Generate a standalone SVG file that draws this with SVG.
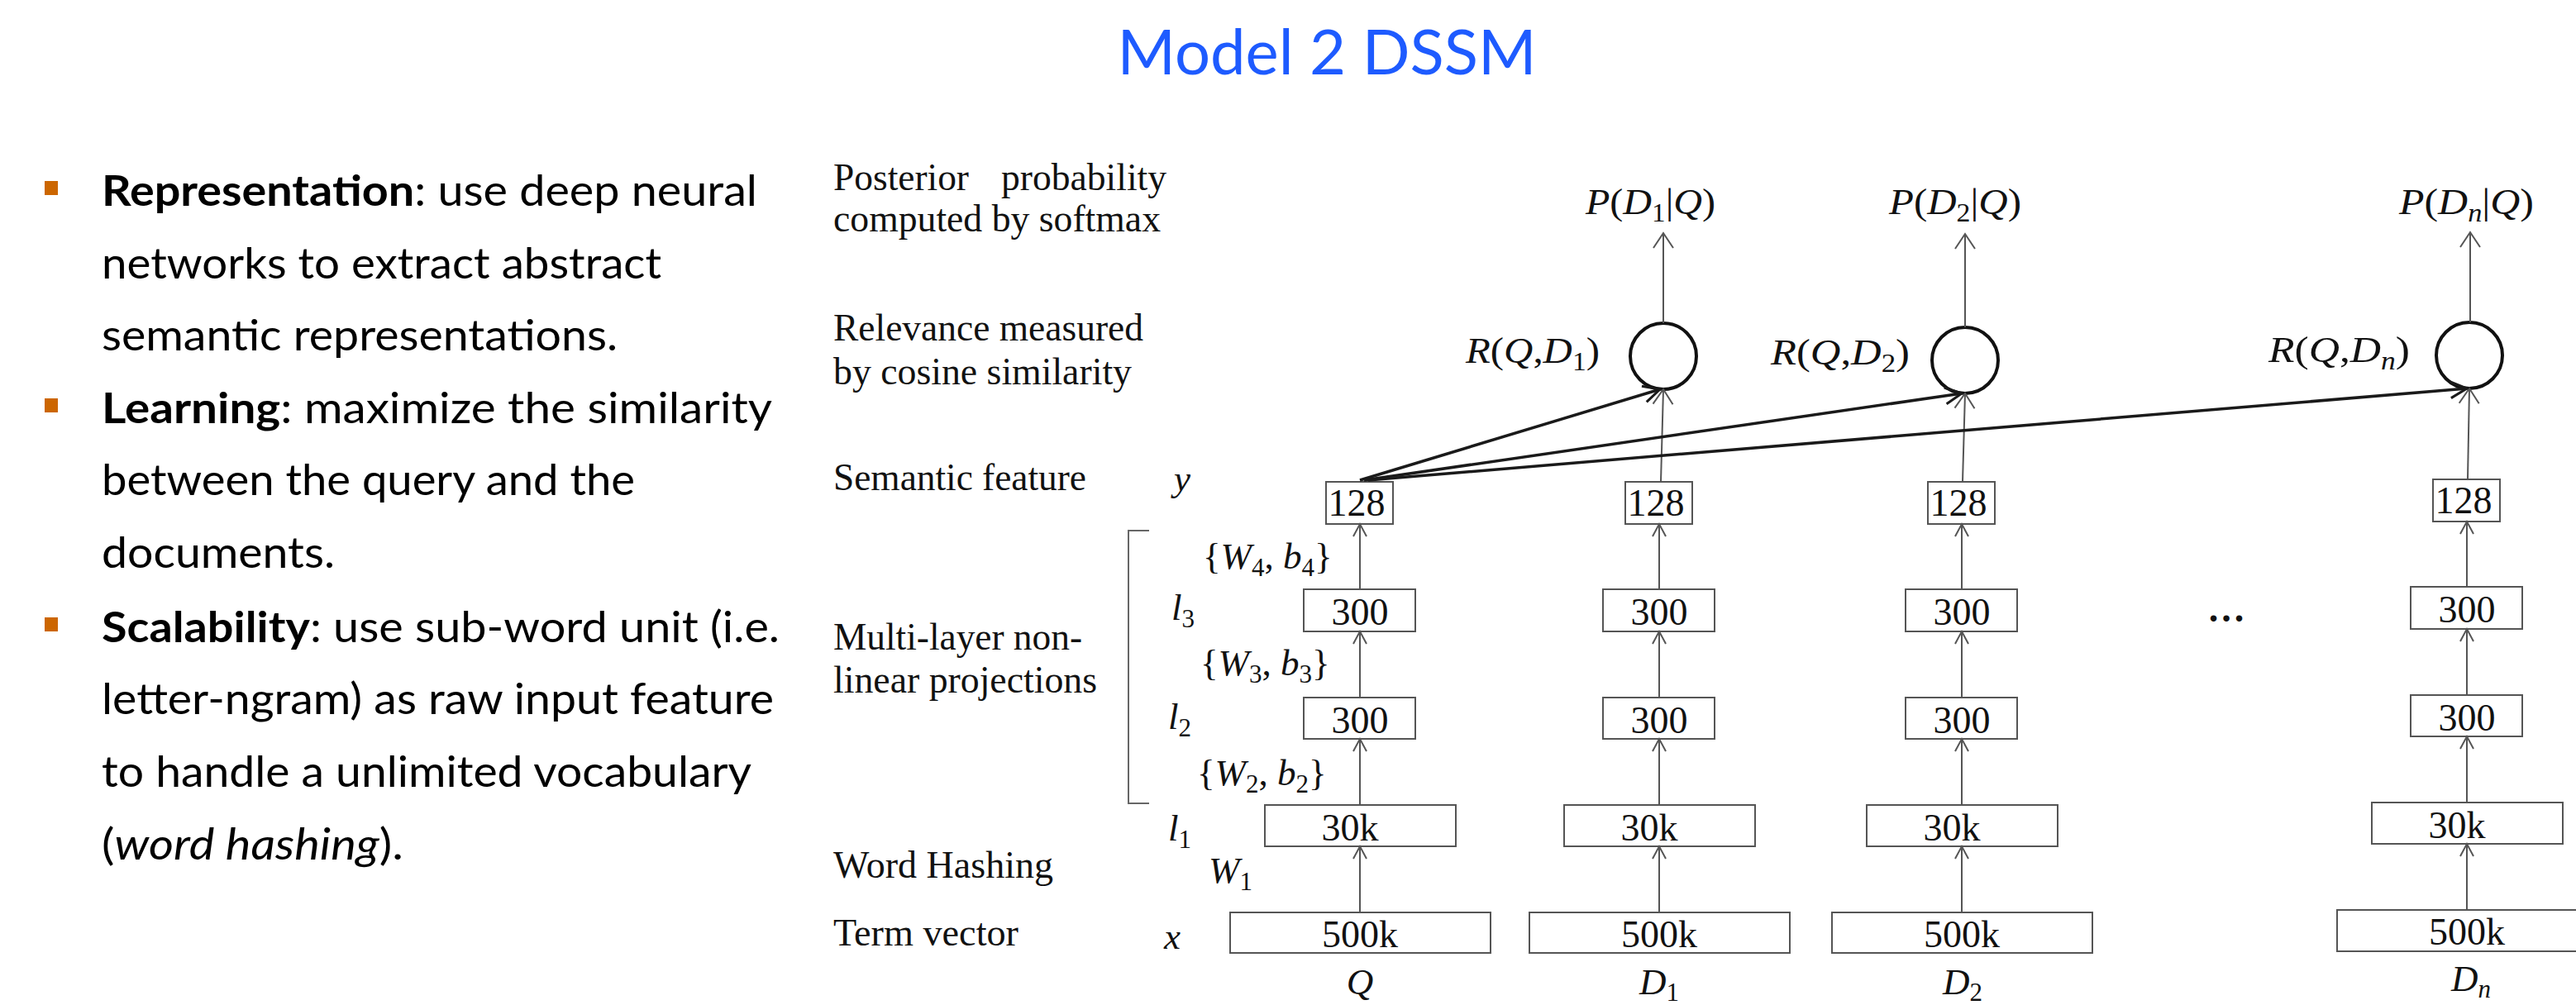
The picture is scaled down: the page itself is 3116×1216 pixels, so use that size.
<svg xmlns="http://www.w3.org/2000/svg" width="3116" height="1216" viewBox="0 0 3116 1216">
  <style>
    .title { font-family: Lato, "Liberation Sans", sans-serif; font-size: 76px; fill: #1e5bff; }
    .bul { font-family: Lato, "Liberation Sans", sans-serif; font-size: 52px; fill: #000; }
    .b { font-weight: bold; }
    .i { font-style: italic; }
    .sq { fill: #cc6600; }
    .lbl { font-family: "Liberation Serif", "Times New Roman", serif; font-size: 46px; fill: #111; }
    .num { font-family: "Liberation Serif", "Times New Roman", serif; font-size: 46px; fill: #111; text-anchor: middle; }
    .m { font-family: "Liberation Serif", "Times New Roman", serif; font-style: italic; font-size: 45px; fill: #111; }
    .mc { text-anchor: middle; }
    .up { font-style: normal; }
    .sb { font-size: 31px; font-style: normal; }
    .sbi { font-size: 31px; }
    .box { fill: #fff; stroke: #555; stroke-width: 2; }
    .thin { fill: none; stroke: #555; stroke-width: 2; }
    .bold { fill: none; stroke: #1a1a1a; stroke-width: 3.5; }
    .cos { fill: none; stroke: #111; stroke-width: 4; }
    .brk { fill: none; stroke: #666; stroke-width: 2; }
  </style>
  <defs>
    <marker id="arrThin" markerUnits="userSpaceOnUse" viewBox="-20 -12 24 24" markerWidth="24" markerHeight="24" refX="0" refY="0" orient="auto" overflow="visible">
      <path d="M-15,-8 L0,0 L-15,8" fill="none" stroke="#555" stroke-width="2"/>
    </marker>
    <marker id="arrTop" markerUnits="userSpaceOnUse" viewBox="-24 -14 28 28" markerWidth="28" markerHeight="28" refX="0" refY="0" orient="auto" overflow="visible">
      <path d="M-18,-12 L0,0 L-18,12" fill="none" stroke="#555" stroke-width="2"/>
    </marker>
    <marker id="arrBold" markerUnits="userSpaceOnUse" viewBox="-24 -14 28 28" markerWidth="28" markerHeight="28" refX="0" refY="0" orient="auto" overflow="visible">
      <path d="M-20,-10 L0,0 L-20,10" fill="none" stroke="#1a1a1a" stroke-width="3"/>
    </marker>
  </defs>

  <rect width="3116" height="1216" fill="#fff"/>

  <!-- heading -->
  <text id="title" class="title" x="1605" y="90" text-anchor="middle" textLength="507" lengthAdjust="spacingAndGlyphs">Model 2 DSSM</text>

  <!-- bullet list -->
  <g id="bullets">
    <rect class="sq" x="54" y="219" width="16" height="17"/>
    <rect class="sq" x="54" y="482" width="16" height="17"/>
    <rect class="sq" x="54" y="747" width="16" height="17"/>
    <text class="bul" x="123" y="249" textLength="793" lengthAdjust="spacingAndGlyphs"><tspan class="b">Representation</tspan>: use deep neural</text>
    <text class="bul" x="123" y="337" textLength="677" lengthAdjust="spacingAndGlyphs">networks to extract abstract</text>
    <text class="bul" x="123" y="424" textLength="624" lengthAdjust="spacingAndGlyphs">semantic representations.</text>
    <text class="bul" x="123" y="512" textLength="811" lengthAdjust="spacingAndGlyphs"><tspan class="b">Learning</tspan>: maximize the similarity</text>
    <text class="bul" x="123" y="599" textLength="645" lengthAdjust="spacingAndGlyphs">between the query and the</text>
    <text class="bul" x="123" y="687" textLength="282" lengthAdjust="spacingAndGlyphs">documents.</text>
    <text class="bul" x="123" y="777" textLength="820" lengthAdjust="spacingAndGlyphs"><tspan class="b">Scalability</tspan>: use sub-word unit (i.e.</text>
    <text class="bul" x="123" y="864" textLength="813" lengthAdjust="spacingAndGlyphs">letter-ngram) as raw input feature</text>
    <text class="bul" x="123" y="952" textLength="786" lengthAdjust="spacingAndGlyphs">to handle a unlimited vocabulary</text>
    <text class="bul" x="123" y="1040" textLength="365" lengthAdjust="spacingAndGlyphs">(<tspan class="i">word hashing</tspan>).</text>
  </g>

  <!-- row captions -->
  <g id="row-labels">
    <text class="lbl" x="1008" y="230" textLength="164" lengthAdjust="spacingAndGlyphs">Posterior</text>
    <text class="lbl" x="1211" y="230" textLength="200" lengthAdjust="spacingAndGlyphs">probability</text>
    <text class="lbl" x="1008" y="280" textLength="396" lengthAdjust="spacingAndGlyphs">computed by softmax</text>
    <text class="lbl" x="1008" y="412" textLength="375" lengthAdjust="spacingAndGlyphs">Relevance measured</text>
    <text class="lbl" x="1008" y="465" textLength="361" lengthAdjust="spacingAndGlyphs">by cosine similarity</text>
    <text class="lbl" x="1008" y="593" textLength="306" lengthAdjust="spacingAndGlyphs">Semantic feature</text>
    <text class="lbl" x="1008" y="786" textLength="301" lengthAdjust="spacingAndGlyphs">Multi-layer non-</text>
    <text class="lbl" x="1008" y="838" textLength="319" lengthAdjust="spacingAndGlyphs">linear projections</text>
    <text class="lbl" x="1008" y="1062" textLength="266" lengthAdjust="spacingAndGlyphs">Word Hashing</text>
    <text class="lbl" x="1008" y="1144" textLength="224" lengthAdjust="spacingAndGlyphs">Term vector</text>
    <path class="brk" d="M1390,642 H1365 V972 H1390"/>
  </g>

  <!-- layer symbols and weights -->
  <g id="layer-symbols">
    <text class="m" x="1420" y="594">y</text>
    <text class="m" x="1455" y="688"><tspan class="up">{</tspan>W<tspan class="sb" dy="9">4</tspan><tspan class="up" dy="-9">, </tspan>b<tspan class="sb" dy="9">4</tspan><tspan class="up" dy="-9">}</tspan></text>
    <text class="m" x="1417" y="750">l<tspan class="sb" dy="9">3</tspan></text>
    <text class="m" x="1452" y="817"><tspan class="up">{</tspan>W<tspan class="sb" dy="9">3</tspan><tspan class="up" dy="-9">, </tspan>b<tspan class="sb" dy="9">3</tspan><tspan class="up" dy="-9">}</tspan></text>
    <text class="m" x="1413" y="882">l<tspan class="sb" dy="9">2</tspan></text>
    <text class="m" x="1448" y="950"><tspan class="up">{</tspan>W<tspan class="sb" dy="9">2</tspan><tspan class="up" dy="-9">,  </tspan>b<tspan class="sb" dy="9">2</tspan><tspan class="up" dy="-9">}</tspan></text>
    <text class="m" x="1413" y="1017">l<tspan class="sb" dy="9">1</tspan></text>
    <text class="m" x="1462" y="1068">W<tspan class="sb" dy="9">1</tspan></text>
    <text class="m" x="1408" y="1148">x</text>
  </g>

  <!-- query tower Q -->
  <g id="tower-q">
    <rect class="box" x="1604" y="583" width="81" height="51"/>
    <text class="num" x="1641" y="624">128</text>
    <rect class="box" x="1577" y="713" width="135" height="51"/>
    <text class="num" x="1645" y="756">300</text>
    <rect class="box" x="1577" y="844" width="135" height="50"/>
    <text class="num" x="1645" y="887">300</text>
    <rect class="box" x="1530" y="974" width="231" height="50"/>
    <text class="num" x="1633" y="1017">30k</text>
    <rect class="box" x="1488" y="1104" width="315" height="49"/>
    <text class="num" x="1645" y="1146">500k</text>
    <text class="m mc" x="1645" y="1203">Q</text>
  </g>

  <!-- document tower D1 -->
  <g id="tower-d1">
    <rect class="box" x="1966" y="583" width="81" height="51"/>
    <text class="num" x="2003" y="624">128</text>
    <rect class="box" x="1939" y="713" width="135" height="51"/>
    <text class="num" x="2007" y="756">300</text>
    <rect class="box" x="1939" y="844" width="135" height="50"/>
    <text class="num" x="2007" y="887">300</text>
    <rect class="box" x="1892" y="974" width="231" height="50"/>
    <text class="num" x="1995" y="1017">30k</text>
    <rect class="box" x="1850" y="1104" width="315" height="49"/>
    <text class="num" x="2007" y="1146">500k</text>
    <text class="m mc" x="2007" y="1203">D<tspan class="sb" dy="8">1</tspan></text>
  </g>

  <!-- document tower D2 -->
  <g id="tower-d2">
    <rect class="box" x="2332" y="583" width="81" height="51"/>
    <text class="num" x="2369" y="624">128</text>
    <rect class="box" x="2305" y="713" width="135" height="51"/>
    <text class="num" x="2373" y="756">300</text>
    <rect class="box" x="2305" y="844" width="135" height="50"/>
    <text class="num" x="2373" y="887">300</text>
    <rect class="box" x="2258" y="974" width="231" height="50"/>
    <text class="num" x="2361" y="1017">30k</text>
    <rect class="box" x="2216" y="1104" width="315" height="49"/>
    <text class="num" x="2373" y="1146">500k</text>
    <text class="m mc" x="2374" y="1203">D<tspan class="sb" dy="8">2</tspan></text>
  </g>

  <text id="ellipsis" class="num" x="2693" y="752" font-weight="bold">…</text>

  <!-- document tower Dn -->
  <g id="tower-dn">
    <rect class="box" x="2943" y="580" width="81" height="51"/>
    <text class="num" x="2980" y="621">128</text>
    <rect class="box" x="2916" y="710" width="135" height="51"/>
    <text class="num" x="2984" y="753">300</text>
    <rect class="box" x="2916" y="841" width="135" height="50"/>
    <text class="num" x="2984" y="884">300</text>
    <rect class="box" x="2869" y="971" width="231" height="50"/>
    <text class="num" x="2972" y="1014">30k</text>
    <rect class="box" x="2827" y="1101" width="315" height="50"/>
    <text class="num" x="2984" y="1143">500k</text>
    <text class="m mc" x="2989" y="1199">D<tspan class="sbi" dy="8">n</tspan></text>
  </g>

  <!-- relevance nodes -->
  <g id="cos-d1">
    <circle class="cos" cx="2012" cy="431" r="40"/>
    <text class="m" x="1773" y="439" textLength="162" lengthAdjust="spacingAndGlyphs">R<tspan class="up">(</tspan>Q<tspan class="up">,</tspan>D<tspan class="sb" dy="9">1</tspan><tspan class="up" dy="-9">)</tspan></text>
  </g>
  <g id="cos-d2">
    <circle class="cos" cx="2377" cy="436" r="40"/>
    <text class="m" x="2142" y="441" textLength="168" lengthAdjust="spacingAndGlyphs">R<tspan class="up">(</tspan>Q<tspan class="up">,</tspan>D<tspan class="sb" dy="9">2</tspan><tspan class="up" dy="-9">)</tspan></text>
  </g>
  <g id="cos-dn">
    <circle class="cos" cx="2987" cy="430" r="40"/>
    <text class="m" x="2744" y="438" textLength="171" lengthAdjust="spacingAndGlyphs">R<tspan class="up">(</tspan>Q<tspan class="up">,</tspan>D<tspan class="sbi" dy="9">n</tspan><tspan class="up" dy="-9">)</tspan></text>
  </g>

  <!-- posterior outputs -->
  <g id="post-d1">
    <text class="m" x="1918" y="259" textLength="157" lengthAdjust="spacingAndGlyphs">P<tspan class="up">(</tspan>D<tspan class="sb" dy="9">1</tspan><tspan class="up" dy="-9">|</tspan>Q<tspan class="up">)</tspan></text>
  </g>
  <g id="post-d2">
    <text class="m" x="2285" y="259" textLength="160" lengthAdjust="spacingAndGlyphs">P<tspan class="up">(</tspan>D<tspan class="sb" dy="9">2</tspan><tspan class="up" dy="-9">|</tspan>Q<tspan class="up">)</tspan></text>
  </g>
  <g id="post-dn">
    <text class="m" x="2902" y="259" textLength="163" lengthAdjust="spacingAndGlyphs">P<tspan class="up">(</tspan>D<tspan class="sbi" dy="9">n</tspan><tspan class="up" dy="-9">|</tspan>Q<tspan class="up">)</tspan></text>
  </g>

  <!-- connectors -->
  <g id="connectors">
    <!-- Q tower -->
    <line class="thin" x1="1645" y1="1104" x2="1645" y2="1024" marker-end="url(#arrThin)"/>
    <line class="thin" x1="1645" y1="974" x2="1645" y2="894" marker-end="url(#arrThin)"/>
    <line class="thin" x1="1645" y1="844" x2="1645" y2="764" marker-end="url(#arrThin)"/>
    <line class="thin" x1="1645" y1="713" x2="1645" y2="634" marker-end="url(#arrThin)"/>
    <!-- D1 tower -->
    <line class="thin" x1="2007" y1="1104" x2="2007" y2="1024" marker-end="url(#arrThin)"/>
    <line class="thin" x1="2007" y1="974" x2="2007" y2="894" marker-end="url(#arrThin)"/>
    <line class="thin" x1="2007" y1="844" x2="2007" y2="764" marker-end="url(#arrThin)"/>
    <line class="thin" x1="2007" y1="713" x2="2007" y2="634" marker-end="url(#arrThin)"/>
    <line class="thin" x1="2009" y1="583" x2="2012" y2="471" marker-end="url(#arrTop)"/>
    <line class="thin" x1="2012" y1="391" x2="2012" y2="282" marker-end="url(#arrTop)"/>
    <!-- D2 tower -->
    <line class="thin" x1="2373" y1="1104" x2="2373" y2="1024" marker-end="url(#arrThin)"/>
    <line class="thin" x1="2373" y1="974" x2="2373" y2="894" marker-end="url(#arrThin)"/>
    <line class="thin" x1="2373" y1="844" x2="2373" y2="764" marker-end="url(#arrThin)"/>
    <line class="thin" x1="2373" y1="713" x2="2373" y2="634" marker-end="url(#arrThin)"/>
    <line class="thin" x1="2374" y1="583" x2="2377" y2="476" marker-end="url(#arrTop)"/>
    <line class="thin" x1="2377" y1="396" x2="2377" y2="283" marker-end="url(#arrTop)"/>
    <!-- Dn tower -->
    <line class="thin" x1="2984" y1="1101" x2="2984" y2="1021" marker-end="url(#arrThin)"/>
    <line class="thin" x1="2984" y1="971" x2="2984" y2="891" marker-end="url(#arrThin)"/>
    <line class="thin" x1="2984" y1="841" x2="2984" y2="761" marker-end="url(#arrThin)"/>
    <line class="thin" x1="2984" y1="710" x2="2984" y2="631" marker-end="url(#arrThin)"/>
    <line class="thin" x1="2985" y1="580" x2="2987" y2="470" marker-end="url(#arrTop)"/>
    <line class="thin" x1="2988" y1="390" x2="2988" y2="281" marker-end="url(#arrTop)"/>
    <!-- query semantic vector to every relevance node -->
    <line class="bold" x1="1645" y1="581" x2="2008" y2="471" marker-end="url(#arrBold)"/>
    <line class="bold" x1="1650" y1="581" x2="2373" y2="476" marker-end="url(#arrBold)"/>
    <line class="bold" x1="1655" y1="581" x2="2984" y2="470" marker-end="url(#arrBold)"/>
  </g>
</svg>
